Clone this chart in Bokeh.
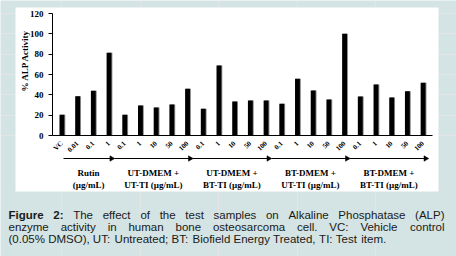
import math
from bokeh.plotting import figure
from bokeh.models import Range1d, FixedTicker, LinearAxis, ColumnDataSource
from bokeh.transform import dodge
from bokeh.embed import file_html
from bokeh.resources import INLINE
from bokeh.core.properties import value

# ---------------- data ----------------
tick_labels = ["VC", "0.01", "0.1", "1",
               "0.1", "1", "10", "50", "100",
               "0.1", "1", "10", "50", "100",
               "0.1", "1", "10", "50", "100",
               "0.1", "1", "10", "50", "100"]
alp_activity = [20.3, 38.7, 44.0, 81.3,
                20.3, 29.5, 27.5, 30.5, 46.0,
                26.2, 68.8, 33.4, 34.4, 34.4,
                31.2, 55.7, 44.3, 35.4, 100.0,
                38.4, 50.2, 37.4, 43.6, 51.8]
group_line1 = ["Rutin", "UT-DMEM +", "UT-DMEM +", "BT-DMEM +", "BT-DMEM +"]
group_line2 = ["(µg/mL)", "UT-TI (µg/mL)", "BT-TI (µg/mL)", "UT-TI (µg/mL)", "BT-TI (µg/mL)"]
group_last_index = [3, 8, 13, 18, 23]
y_ticks = [0, 20, 40, 60, 80, 100, 120]
y_title = "% ALP Activity"
caption_lines = [
    "Figure 2: The effect of the test samples on Alkaline Phosphatase (ALP)",
    "enzyme activity in human bone osteosarcoma cell. VC: Vehicle control",
    "(0.05% DMSO), UT: Untreated; BT: Biofield Energy Treated, TI: Test item.",
]
caption_bold_words = ["Figure", "2:"]

# ---------------- style / layout ----------------
BG = "#d4e3e3"
SERIF = "Liberation Serif"
SANS = "Liberation Sans"
W, H = 456, 256
AX_L, AX_R = 52.0, 432.0      # pixel extent of x axis
AX_Y0, AX_Y120 = 135.0, 13.0  # pixel of y=0 and y=120
X0, X1 = -0.6, 23.6           # axis extent in category-index units
sx = (AX_R - AX_L) / (X1 - X0)
sy = (AX_Y0 - AX_Y120) / 120.0

p = figure(width=W, height=H,
           x_range=Range1d(X0 - AX_L / sx, X1 + (W - AX_R) / sx),
           y_range=Range1d(-(H - AX_Y0) / sy, AX_Y0 / sy),
           x_axis_location=None, y_axis_location=None,
           output_backend="svg", toolbar_location=None, min_border=0,
           background_fill_color=BG, border_fill_color=BG, outline_line_color=None)
p.extra_x_ranges = {"px": Range1d(0, W)}
p.extra_y_ranges = {"py": Range1d(H, 0)}

# white panel
p.quad(left=[15], right=[438], top=[7], bottom=[191], x_range_name="px", y_range_name="py",
       fill_color="white", line_color=None)

# bars
x_idx = list(range(len(alp_activity)))
src = ColumnDataSource(dict(x=x_idx, top=alp_activity))
p.vbar(x=dodge("x", 0.06, range=p.x_range), top="top", width=0.31, bottom=0, source=src,
       fill_color="#8a8a8a", line_color=None)
p.vbar(x="x", top="top", width=0.31, bottom=0, source=src, fill_color="black", line_color=None)

# y axis
yax = LinearAxis(fixed_location=X0, bounds=(0, 120), ticker=FixedTicker(ticks=y_ticks))
yax.major_label_text_font = SERIF
yax.major_label_text_font_style = "bold"
yax.major_label_text_font_size = "9px"
yax.major_label_text_color = "black"
yax.major_tick_out = 4
yax.major_tick_in = 0
yax.minor_tick_line_color = None
yax.axis_line_color = "black"
yax.major_tick_line_color = "black"
yax.major_label_standoff = 5
p.add_layout(yax, "left")

# x axis
xax = LinearAxis(fixed_location=0, bounds=(X0, X1), ticker=FixedTicker(ticks=x_idx))
xax.major_label_overrides = {i: lab for i, lab in zip(x_idx, tick_labels)}
xax.major_label_orientation = math.pi / 4
xax.major_tick_line_color = None
xax.minor_tick_line_color = None
xax.axis_line_color = "black"
xax.major_label_text_font = SERIF
xax.major_label_text_font_style = "bold"
xax.major_label_text_font_size = "7px"
xax.major_label_text_color = "black"
xax.major_label_standoff = 1
p.add_layout(xax, "below")

# y title
p.text(x=[24], y=[60], text=[y_title], angle=math.pi / 2, x_range_name="px", y_range_name="py",
       text_align="center", text_baseline="middle", text_font=value(SERIF),
       text_font_style="bold", text_font_size="9px", text_color="black")

# group arrows and labels
ARROW_Y = 158
starts, ends, mids = [], [], []
prev_end = 0.1
for i, last in enumerate(group_last_index):
    end = last + 0.3
    start = prev_end if i == 0 else prev_end + 0.05
    starts.append(start)
    ends.append(end)
    mids.append((start + end) / 2)
    prev_end = end
p.segment(x0=starts, x1=[e - 0.1 for e in ends], y0=[ARROW_Y] * 5, y1=[ARROW_Y] * 5,
          y_range_name="py", line_color="black", line_width=1)
p.scatter(x=[e - 0.14 for e in ends], y=[ARROW_Y] * 5, y_range_name="py", marker="triangle",
          angle=-math.pi / 2, size=5.5, fill_color="black", line_color="black", line_width=0.5)
p.text(x=mids, y=[172] * 5, text=group_line1, y_range_name="py", text_align="center",
       text_baseline="middle", text_font=value(SERIF), text_font_style="bold",
       text_font_size="9px", text_color="black")
p.text(x=mids, y=[184] * 5, text=group_line2, y_range_name="py", text_align="center",
       text_baseline="middle", text_font=value(SERIF), text_font_style="bold",
       text_font_size="9px", text_color="black")

# ---------------- caption (justified) ----------------
REG = dict(zip("abcdefghijklmnopqrstuvwxyz",
               [556, 556, 500, 556, 556, 278, 556, 556, 222, 222, 500, 222, 833, 556, 556, 556,
                556, 333, 500, 278, 556, 500, 722, 500, 500, 500]))
REG.update(dict(zip("ABCDEFGHIJKLMNOPQRSTUVWXYZ",
                    [667, 667, 722, 722, 667, 611, 778, 722, 278, 500, 667, 556, 833, 722, 778, 667,
                     778, 722, 667, 611, 722, 667, 944, 667, 667, 611])))
REG.update({c: 556 for c in "0123456789"})
REG.update({" ": 278, ".": 278, ",": 278, ":": 278, ";": 278, "(": 333, ")": 333, "%": 889, "-": 333})
BOLD = dict(REG)
BOLD.update({"F": 611, "i": 278, "g": 611, "u": 611, "r": 389, "e": 556, "2": 556, ":": 333})
FS = 11.5


def width(word, bold):
    tbl = BOLD if bold else REG
    return sum(tbl.get(c, 556) for c in word) * FS / 1000.0


XL, XRt = 8.0, 444.0
baselines = [214.5, 226.5, 238.5]
words_n = dict(x=[], y=[], text=[])
words_b = dict(x=[], y=[], text=[])
for li, (line, base) in enumerate(zip(caption_lines, baselines)):
    words = line.split(" ")
    bolds = [(li == 0 and w in caption_bold_words) for w in words]
    ws = [width(w, b) for w, b in zip(words, bolds)]
    if li < len(caption_lines) - 1:
        gap = (XRt - XL - sum(ws)) / (len(words) - 1)
    else:
        gap = REG[" "] * FS / 1000.0
    xx = XL
    for w, b, wd in zip(words, bolds, ws):
        d = words_b if b else words_n
        d["x"].append(xx)
        d["y"].append(base)
        d["text"].append(w)
        xx += wd + gap

p.text(x="x", y="y", text="text", source=ColumnDataSource(words_n), x_range_name="px",
       y_range_name="py", text_font=value(SANS), text_font_size="11.5px",
       text_baseline="alphabetic", text_align="left", text_color="#1a1a1a")
p.text(x="x", y="y", text="text", source=ColumnDataSource(words_b), x_range_name="px",
       y_range_name="py", text_font=value(SANS), text_font_style="bold", text_font_size="11.5px",
       text_baseline="alphabetic", text_align="left", text_color="#1a1a1a")

open("out.html", "w").write(file_html(p, INLINE))
